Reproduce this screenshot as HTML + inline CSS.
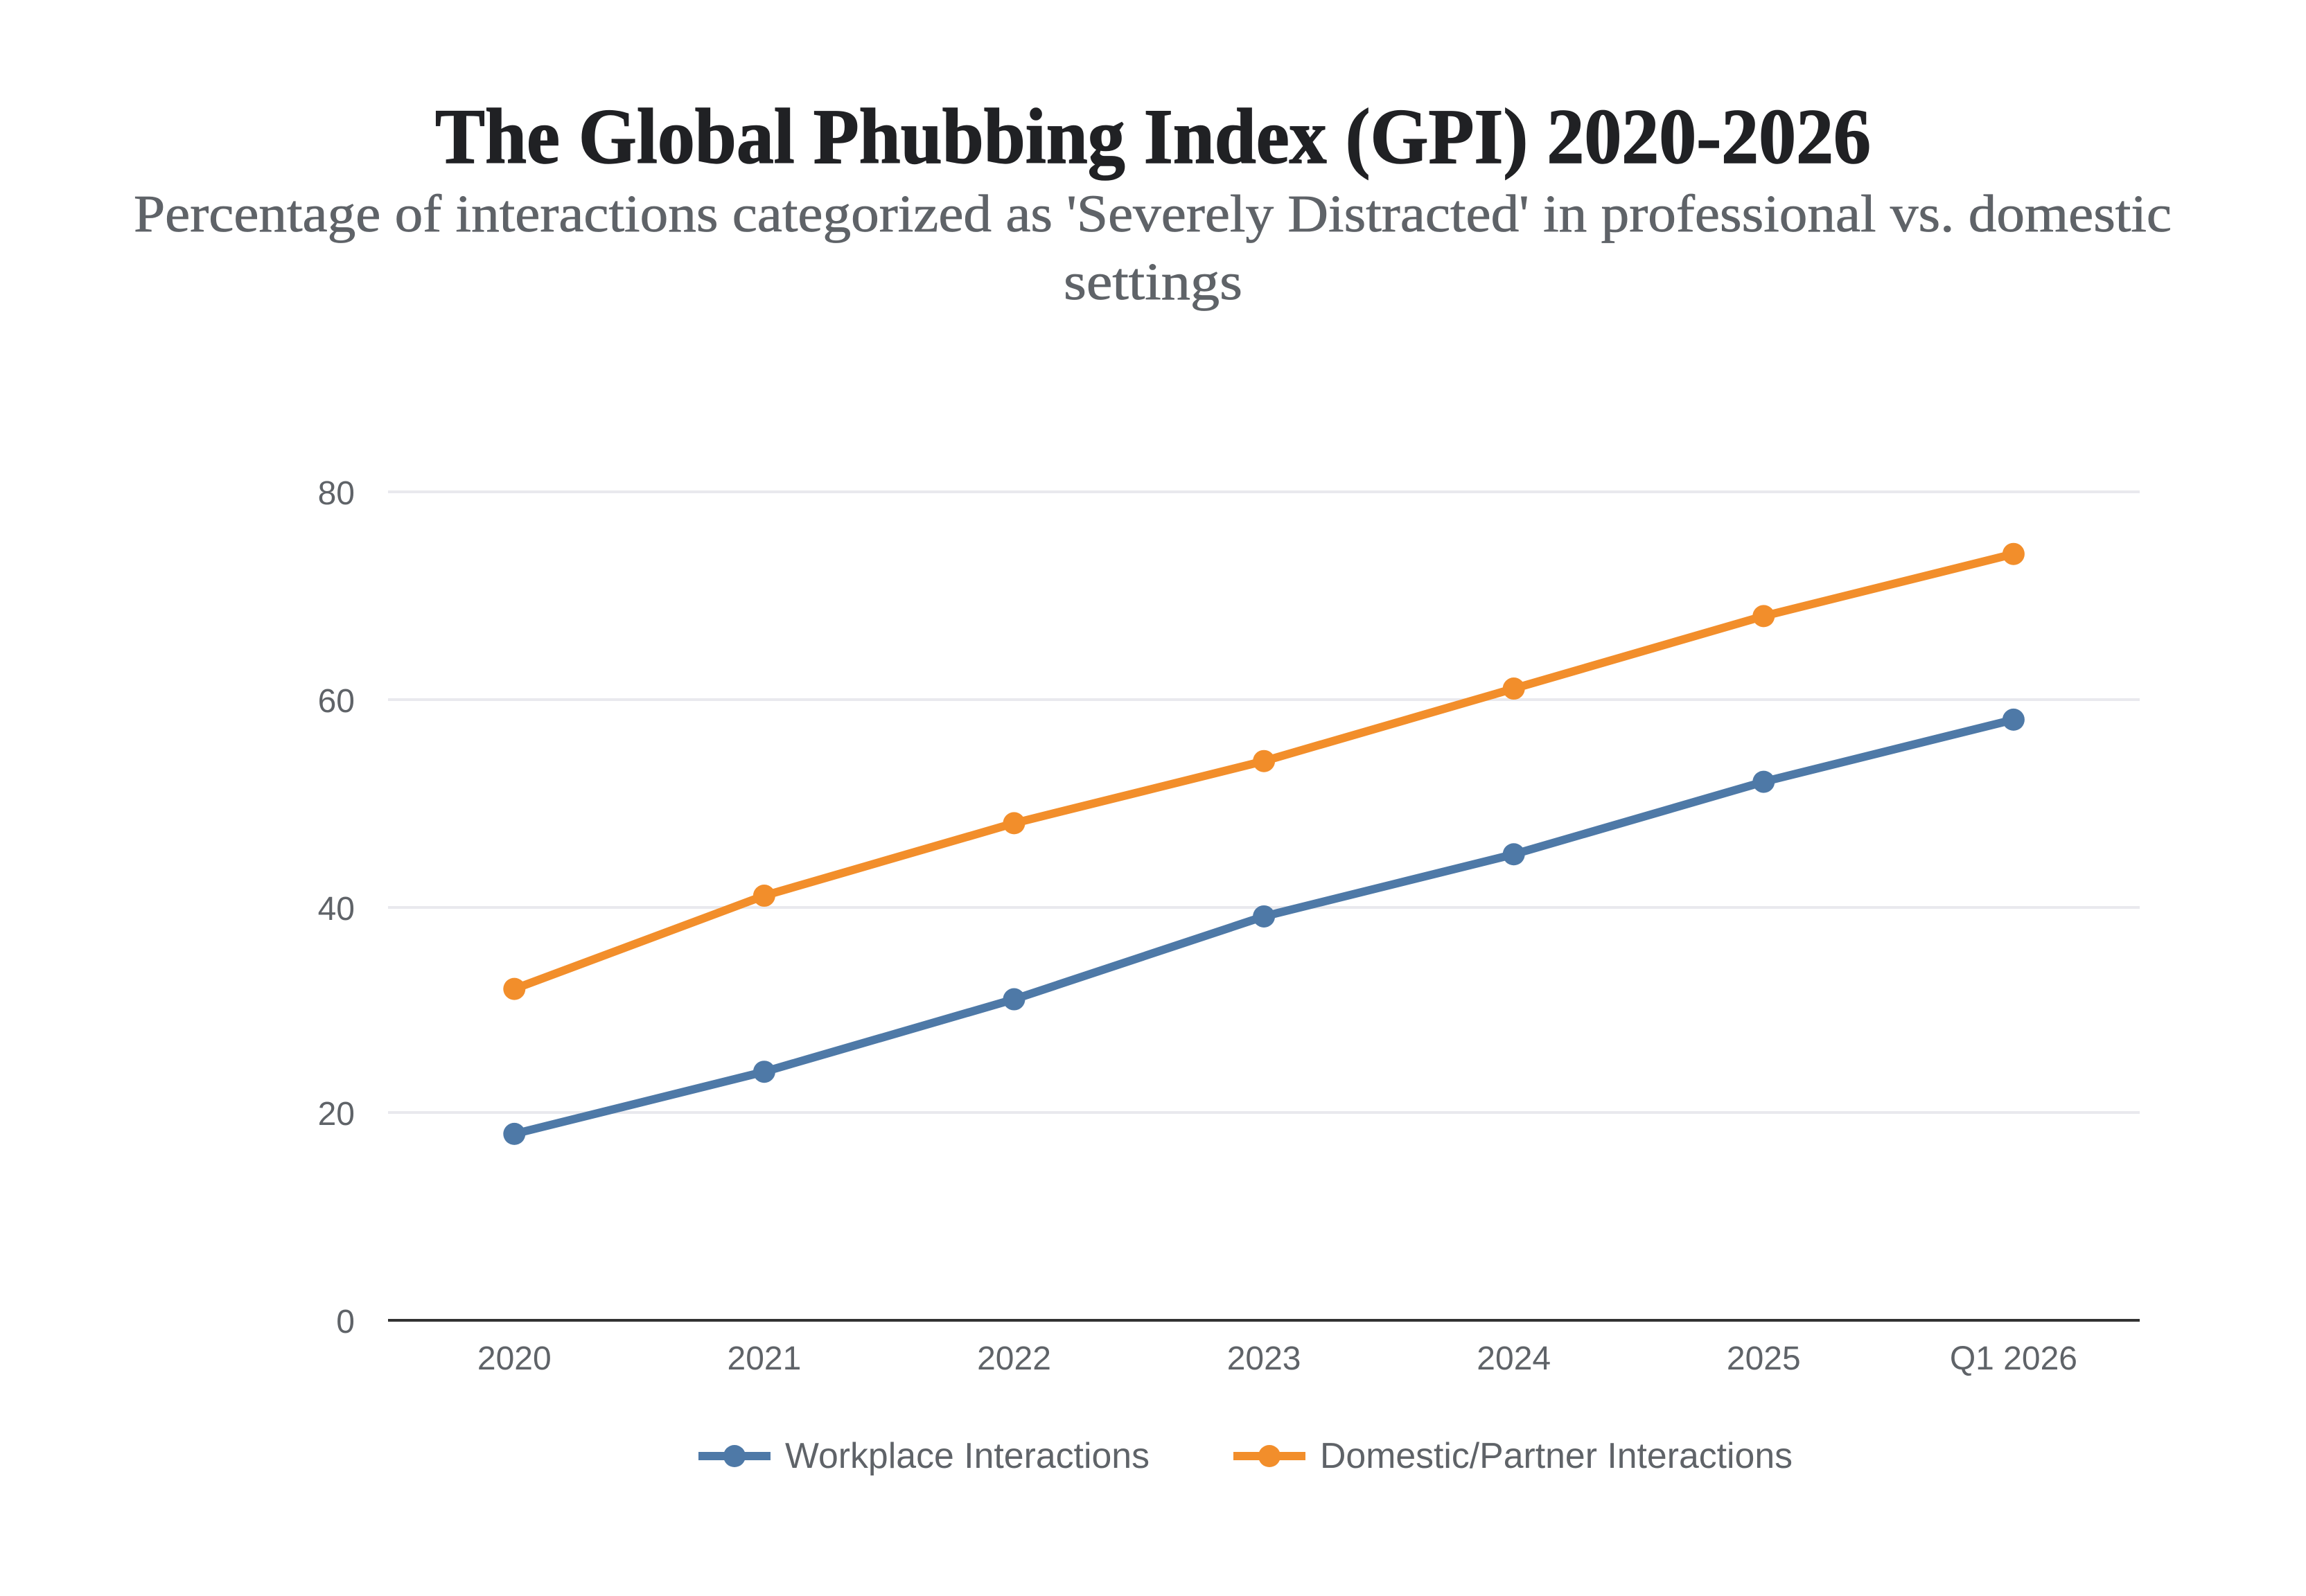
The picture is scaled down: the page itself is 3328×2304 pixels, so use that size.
<!DOCTYPE html>
<html lang="en">
<head>
<meta charset="utf-8">
<title>The Global Phubbing Index (GPI) 2020-2026</title>
<style>
  html, body { margin: 0; padding: 0; background: #ffffff; }
  #chart { display: block; width: 3328px; height: 2304px; }
  .sans { font-family: "Liberation Sans", sans-serif; fill: #5f6368; }
  .serif { font-family: "Liberation Serif", serif; }
</style>
</head>
<body>
<svg id="chart" xmlns="http://www.w3.org/2000/svg" width="3328" height="2304" viewBox="0 0 3328 2304">
  <rect x="0" y="0" width="3328" height="2304" fill="#ffffff"></rect>
  <text class="serif" x="628" y="235" font-size="113" font-weight="700" fill="#202124" stroke="#202124" stroke-width="1.5" textLength="2072" lengthAdjust="spacingAndGlyphs">The Global Phubbing Index (GPI) 2020-2026</text>
  <text class="serif" x="193" y="334" font-size="76" fill="#5f6368" stroke="#5f6368" stroke-width="0.8" textLength="2941" lengthAdjust="spacingAndGlyphs">Percentage of interactions categorized as 'Severely Distracted' in professional vs. domestic</text>
  <text class="serif" x="1535" y="432" font-size="76" fill="#5f6368" stroke="#5f6368" stroke-width="0.8" textLength="258" lengthAdjust="spacingAndGlyphs">settings</text>
  <g id="grid"></g>
  <g id="yLabels"></g>
  <g id="xLabels"></g>
  <g id="series"></g>
  <g>
    <g>
      <rect x="1008" y="2096" width="104" height="12" fill="#4e79a7"></rect>
      <circle cx="1060" cy="2102" r="16" fill="#4e79a7"></circle>
      <text class="sans" x="1133" y="2119" font-size="52" textLength="526" lengthAdjust="spacingAndGlyphs">Workplace Interactions</text>
    </g>
    <g>
      <rect x="1780" y="2096" width="104" height="12" fill="#f28e2b"></rect>
      <circle cx="1832" cy="2102" r="16" fill="#f28e2b"></circle>
      <text class="sans" x="1905" y="2119" font-size="52" textLength="682" lengthAdjust="spacingAndGlyphs">Domestic/Partner Interactions</text>
    </g>
  </g>
</svg>
<script>
const categories = ["2020", "2021", "2022", "2023", "2024", "2025", "Q1 2026"];
const workplaceValues = [18, 24, 31, 39, 45, 52, 58];
const domesticValues = [32, 41, 48, 54, 61, 68, 74];
const yTickValues = [0, 20, 40, 60, 80];

const NS = "http://www.w3.org/2000/svg";
const plotLeft = 560, plotRight = 3088, baseY = 1906, pxPerUnit = 14.95;
const firstX = 742.3, stepX = 360.6;

function xScale(i) { return firstX + stepX * i; }
function yScale(v) { return baseY - v * pxPerUnit; }
function crispY(v) { return (Math.floor(yScale(v) / 4) + 0.5) * 4; }

const gridLayer = document.getElementById("grid");
const yLabelLayer = document.getElementById("yLabels");
const xLabelLayer = document.getElementById("xLabels");
const seriesLayer = document.getElementById("series");

yTickValues.forEach(function (tick) {
  const line = document.createElementNS(NS, "line");
  line.setAttribute("x1", plotLeft);
  line.setAttribute("x2", plotRight);
  line.setAttribute("y1", crispY(tick));
  line.setAttribute("y2", crispY(tick));
  line.setAttribute("stroke", tick === 0 ? "#333333" : "#e9e9ee");
  line.setAttribute("stroke-width", 4);
  
  
  gridLayer.appendChild(line);

  const label = document.createElementNS(NS, "text");
  label.setAttribute("class", "sans");
  label.setAttribute("x", 512);
  label.setAttribute("y", crispY(tick) + 18);
  label.setAttribute("font-size", 48);
  label.setAttribute("text-anchor", "end");
  label.textContent = String(tick);
  
  
  yLabelLayer.appendChild(label);
});

categories.forEach(function (cat, i) {
  const label = document.createElementNS(NS, "text");
  label.setAttribute("class", "sans");
  label.setAttribute("x", xScale(i));
  label.setAttribute("y", 1977);
  label.setAttribute("font-size", 48);
  label.setAttribute("text-anchor", "middle");
  label.textContent = cat;
  
  
  xLabelLayer.appendChild(label);
});

function drawSeries(values, color, seriesName) {
  const pts = values.map(function (v, i) { return xScale(i) + "," + yScale(v); }).join(" ");
  const line = document.createElementNS(NS, "polyline");
  line.setAttribute("points", pts);
  line.setAttribute("fill", "none");
  line.setAttribute("stroke", color);
  line.setAttribute("stroke-width", 12);
  line.setAttribute("stroke-linejoin", "round");
  line.setAttribute("stroke-linecap", "round");
  
  
  seriesLayer.appendChild(line);

  values.forEach(function (v, i) {
    const dot = document.createElementNS(NS, "circle");
    dot.setAttribute("cx", xScale(i));
    dot.setAttribute("cy", yScale(v));
    dot.setAttribute("r", 16);
    dot.setAttribute("fill", color);
    
    
    seriesLayer.appendChild(dot);
  });
}

drawSeries(workplaceValues, "#4e79a7", "workplace");
drawSeries(domesticValues, "#f28e2b", "domestic");
</script>
</body>
</html>
